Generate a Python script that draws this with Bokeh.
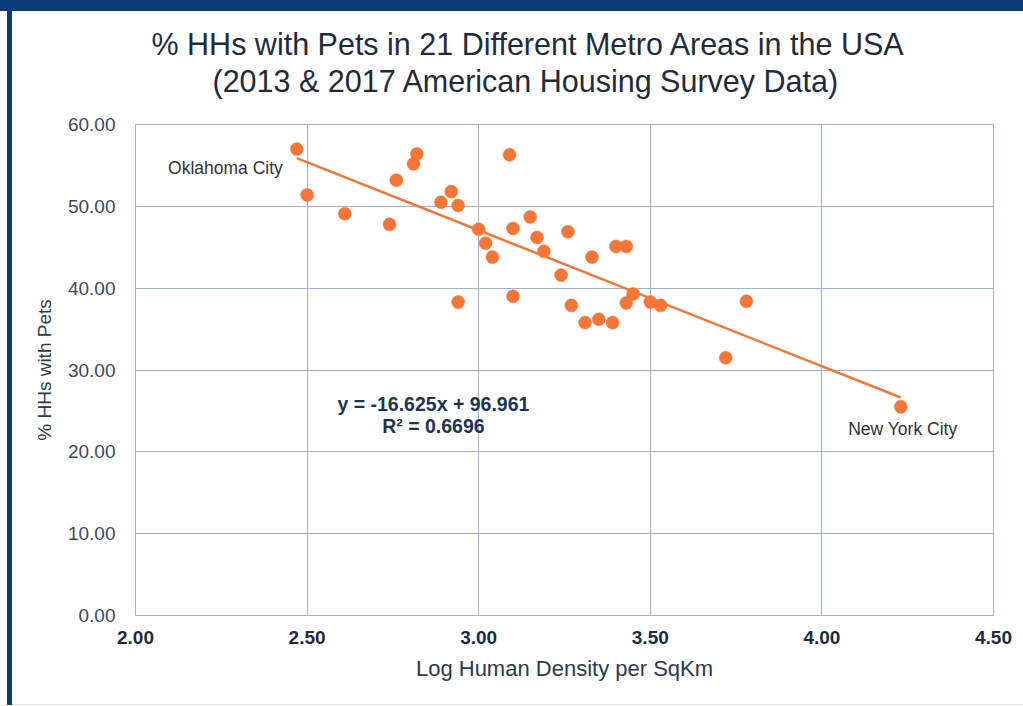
from bokeh.plotting import figure
from bokeh.models import (ColumnDataSource, FixedTicker, NumeralTickFormatter,
                          Title, Label, Range1d)
from bokeh.core.properties import value
from bokeh.embed import file_html
from bokeh.resources import INLINE

# ---------------- data ----------------
log_density = [2.47, 2.50, 2.61, 2.74, 2.76, 2.81, 2.82, 2.89, 2.92, 2.94,
               2.94, 3.00, 3.02, 3.04, 3.09, 3.10, 3.10, 3.15, 3.17, 3.19,
               3.24, 3.26, 3.27, 3.31, 3.33, 3.35, 3.39, 3.40, 3.43, 3.43,
               3.45, 3.50, 3.53, 3.72, 3.78, 4.23]
pct_pets = [57.0, 51.4, 49.1, 47.8, 53.2, 55.2, 56.4, 50.5, 51.8, 50.1,
            38.3, 47.2, 45.5, 43.8, 56.3, 47.3, 39.0, 48.7, 46.2, 44.5,
            41.6, 46.9, 37.9, 35.8, 43.8, 36.2, 35.8, 45.1, 45.1, 38.2,
            39.3, 38.3, 37.9, 31.5, 38.4, 25.5]
trend_slope = -16.625
trend_intercept = 96.961
r_squared = 0.6696
x_ticks = [2.0, 2.5, 3.0, 3.5, 4.0, 4.5]
y_ticks = [0, 10, 20, 30, 40, 50, 60]
city_labels = ["Oklahoma City", "New York City"]

title_line1 = "% HHs with Pets in 21 Different Metro Areas in the USA"
title_line2 = "(2013 & 2017 American Housing Survey Data)"

# ---------------- style ----------------
FONT = "Liberation Sans"
ORANGE = "#f47636"
GRID = "#9db2d0"
NAVY = "#0b3b78"

p = figure(width=1023, height=705, output_backend="svg", toolbar_location=None,
           x_range=Range1d(2.0, 4.5), y_range=Range1d(0, 60),
           min_border_left=135, min_border_right=30,
           min_border_top=124, min_border_bottom=90)
p.border_fill_color = None
p.background_fill_color = "white"
p.outline_line_color = GRID
p.outline_line_width = 1
p.styles = {"background-color": "white",
            "box-shadow": (f"inset 0 11px 0 0 {NAVY}, "
                           "inset 7px 0 0 0 white, "
                           f"inset 12px 0 0 0 {NAVY}, "
                           "inset 0 -1px 0 0 #e4e4e4")}

# titles (added nearest first)
t2 = Title(text=title_line2, align="left", offset=77, standoff=53,
           text_font=FONT, text_font_size="30.5px", text_font_style="normal",
           text_color="#1f2b3b")
t1 = Title(text=title_line1, align="left", offset=16, standoff=-50,
           text_font=FONT, text_font_size="30.5px", text_font_style="normal",
           text_color="#1f2b3b")
p.add_layout(t2, "above")
p.add_layout(t1, "above")

# axes
p.xaxis.ticker = FixedTicker(ticks=x_ticks)
p.yaxis.ticker = FixedTicker(ticks=y_ticks)
p.xaxis.formatter = NumeralTickFormatter(format="0.00")
p.yaxis.formatter = NumeralTickFormatter(format="0.00")
for ax in (p.xaxis, p.yaxis):
    ax.axis_line_color = None
    ax.major_tick_line_color = None
    ax.minor_tick_line_color = None
    ax.axis_label_text_font = FONT
    ax.axis_label_text_font_style = "normal"
    ax.axis_label_text_color = "#2b3a4d"
    ax.major_label_text_font = FONT
p.xaxis.major_label_text_font_size = "19px"
p.xaxis.major_label_text_font_style = "bold"
p.xaxis.major_label_text_color = "#1c2a42"
p.xaxis.major_label_standoff = 9
p.yaxis.major_label_text_font_size = "19px"
p.yaxis.major_label_text_color = "#3c495b"
p.yaxis.major_label_standoff = 14
p.xaxis.axis_label = "Log Human Density per SqKm"
p.xaxis.axis_label_text_font_size = "22px"
p.xaxis.axis_label_standoff = 9
p.yaxis.axis_label = "% HHs with Pets"
p.yaxis.axis_label_text_font_size = "19px"
p.yaxis.axis_label_standoff = 10

p.xgrid.grid_line_color = GRID
p.ygrid.grid_line_color = GRID
p.xgrid.grid_line_width = 1
p.ygrid.grid_line_width = 1

# trend line
x0, x1 = min(log_density), max(log_density)
trend_src = ColumnDataSource(dict(x=[x0, x1],
                                  y=[trend_slope * x0 + trend_intercept,
                                     trend_slope * x1 + trend_intercept]))
p.line("x", "y", source=trend_src, line_color=ORANGE, line_width=2.5)

# points
src = ColumnDataSource(dict(x=log_density, y=pct_pets))
p.scatter("x", "y", source=src, size=13, fill_color=ORANGE, line_color=ORANGE,
          line_width=0.5)

# city labels
i_min = log_density.index(x0)
i_max = log_density.index(x1)
p.text(x=[log_density[i_min]], y=[pct_pets[i_min]], text=[city_labels[0]],
       text_align="right", text_baseline="middle", x_offset=-14, y_offset=19,
       text_font=value(FONT), text_font_size="17.5px", text_color="#333333")
p.text(x=[log_density[i_max]], y=[pct_pets[i_max]], text=[city_labels[1]],
       text_align="center", text_baseline="middle", x_offset=2, y_offset=22,
       text_font=value(FONT), text_font_size="17.5px", text_color="#333333")

# equation
eq1 = f"y = {trend_slope:.3f}x + {trend_intercept:.3f}"
eq2 = f"R\u00b2 = {r_squared:.4f}"
p.add_layout(Label(x=2.868, y=25.9, text=eq1, text_align="center",
                   text_baseline="middle", text_font=FONT,
                   text_font_size="19.5px", text_font_style="bold",
                   text_color="#1f3350"))
p.add_layout(Label(x=2.868, y=23.2, text=eq2, text_align="center",
                   text_baseline="middle", text_font=FONT,
                   text_font_size="19.5px", text_font_style="bold",
                   text_color="#1f3350"))

open("out.html", "w").write(file_html(p, INLINE))
